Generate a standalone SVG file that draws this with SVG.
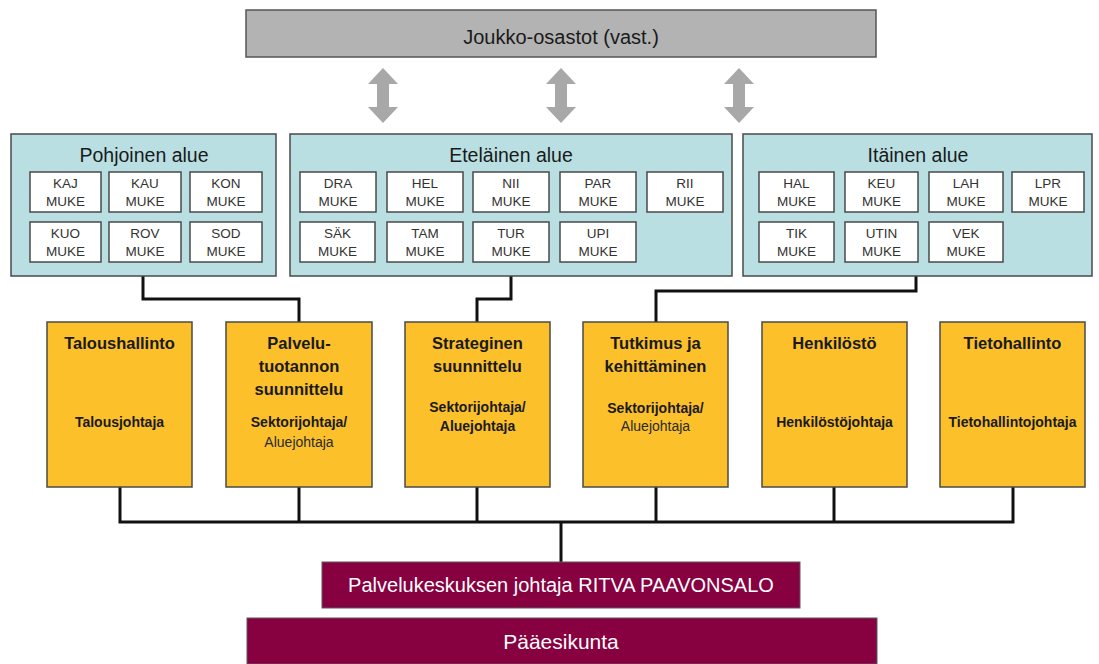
<svg xmlns="http://www.w3.org/2000/svg" width="1099" height="664" viewBox="0 0 1099 664">
<style>
text{font-family:"Liberation Sans",Arial,sans-serif;text-anchor:middle}
.region{fill:#b9dfe2;stroke:#4a4a4a;stroke-width:1.5}
.unit{fill:#ffffff;stroke:#4a4a4a;stroke-width:1.5}
.unit-t{font-size:13.5px;fill:#333}
.rtitle{font-size:19.5px;fill:#1a1a1a}
.dept{fill:#fcc02b;stroke:#4a4a4a;stroke-width:1.5}
.dt{font-size:16.5px;font-weight:bold;fill:#1a1a1a}
.ds{font-size:14px;font-weight:bold;fill:#1a1a1a}
.dn{font-size:14px;fill:#2a2a2a}
.maroon{fill:#870040;stroke:#5a5a5a;stroke-width:1}
.wt{fill:#ffffff}
.conn{fill:none;stroke:#111;stroke-width:3}
.arrow{fill:#a8a8a8}
</style>
<rect width="1099" height="664" fill="#ffffff"/>

<g id="joukko">
<rect x="246" y="10" width="630" height="47" fill="#b3b3b3" stroke="#555" stroke-width="1.5"/>
<text x="561" y="44" font-size="20" fill="#1a1a1a">Joukko-osastot (vast.)</text>
</g>

<g id="arrows">
<path class="arrow" d="M383,68 L398,84 L389,84 L389,107 L398,107 L383,123 L368,107 L377,107 L377,84 L368,84 Z"/>
<path class="arrow" d="M561,68 L576,84 L567,84 L567,107 L576,107 L561,123 L546,107 L555,107 L555,84 L546,84 Z"/>
<path class="arrow" d="M739,68 L754,84 L745,84 L745,107 L754,107 L739,123 L724,107 L733,107 L733,84 L724,84 Z"/>
</g>

<g id="connectors">
<path class="conn" d="M143,276 V299 H299 V322"/>
<path class="conn" d="M511,276 V299 H477 V322"/>
<path class="conn" d="M916,276 V291 H656 V322"/>
<path class="conn" d="M120,487 V522 H1013 V487"/>
<path class="conn" d="M299,487 V522"/>
<path class="conn" d="M477,487 V522"/>
<path class="conn" d="M656,487 V522"/>
<path class="conn" d="M834,487 V522"/>
<path class="conn" d="M561,522 V562"/>
</g>

<g id="pohjoinen">
<rect class="region" x="11" y="134" width="265" height="142"/>
<text class="rtitle" x="144" y="162">Pohjoinen alue</text>
<rect class="unit" x="30" y="172" width="71" height="40"/>
<text class="unit-t" x="65.5" y="188">KAJ</text><text class="unit-t" x="65.5" y="206">MUKE</text>
<rect class="unit" x="109" y="172" width="72" height="40"/>
<text class="unit-t" x="145" y="188">KAU</text><text class="unit-t" x="145" y="206">MUKE</text>
<rect class="unit" x="190" y="172" width="72" height="40"/>
<text class="unit-t" x="226" y="188">KON</text><text class="unit-t" x="226" y="206">MUKE</text>
<rect class="unit" x="30" y="222" width="71" height="40"/>
<text class="unit-t" x="65.5" y="238">KUO</text><text class="unit-t" x="65.5" y="256">MUKE</text>
<rect class="unit" x="109" y="222" width="72" height="40"/>
<text class="unit-t" x="145" y="238">ROV</text><text class="unit-t" x="145" y="256">MUKE</text>
<rect class="unit" x="190" y="222" width="72" height="40"/>
<text class="unit-t" x="226" y="238">SOD</text><text class="unit-t" x="226" y="256">MUKE</text>
</g>

<g id="etelainen">
<rect class="region" x="290" y="134" width="442" height="142"/>
<text class="rtitle" x="511" y="162">Eteläinen alue</text>
<rect class="unit" x="300" y="172" width="76" height="40"/>
<text class="unit-t" x="338" y="188">DRA</text><text class="unit-t" x="338" y="206">MUKE</text>
<rect class="unit" x="387" y="172" width="76" height="40"/>
<text class="unit-t" x="425" y="188">HEL</text><text class="unit-t" x="425" y="206">MUKE</text>
<rect class="unit" x="473" y="172" width="76" height="40"/>
<text class="unit-t" x="511" y="188">NII</text><text class="unit-t" x="511" y="206">MUKE</text>
<rect class="unit" x="560" y="172" width="76" height="40"/>
<text class="unit-t" x="598" y="188">PAR</text><text class="unit-t" x="598" y="206">MUKE</text>
<rect class="unit" x="647" y="172" width="76" height="40"/>
<text class="unit-t" x="685" y="188">RII</text><text class="unit-t" x="685" y="206">MUKE</text>
<rect class="unit" x="300" y="222" width="75" height="40"/>
<text class="unit-t" x="337.5" y="238">SÄK</text><text class="unit-t" x="337.5" y="256">MUKE</text>
<rect class="unit" x="387" y="222" width="76" height="40"/>
<text class="unit-t" x="425" y="238">TAM</text><text class="unit-t" x="425" y="256">MUKE</text>
<rect class="unit" x="473" y="222" width="76" height="40"/>
<text class="unit-t" x="511" y="238">TUR</text><text class="unit-t" x="511" y="256">MUKE</text>
<rect class="unit" x="560" y="222" width="76" height="40"/>
<text class="unit-t" x="598" y="238">UPI</text><text class="unit-t" x="598" y="256">MUKE</text>
</g>

<g id="itainen">
<rect class="region" x="743" y="134" width="349" height="142"/>
<text class="rtitle" x="918" y="162">Itäinen alue</text>
<rect class="unit" x="759" y="172" width="75" height="40"/>
<text class="unit-t" x="796.5" y="188">HAL</text><text class="unit-t" x="796.5" y="206">MUKE</text>
<rect class="unit" x="845" y="172" width="73" height="40"/>
<text class="unit-t" x="881.5" y="188">KEU</text><text class="unit-t" x="881.5" y="206">MUKE</text>
<rect class="unit" x="929" y="172" width="74" height="40"/>
<text class="unit-t" x="966" y="188">LAH</text><text class="unit-t" x="966" y="206">MUKE</text>
<rect class="unit" x="1012" y="172" width="72" height="40"/>
<text class="unit-t" x="1048" y="188">LPR</text><text class="unit-t" x="1048" y="206">MUKE</text>
<rect class="unit" x="759" y="222" width="75" height="40"/>
<text class="unit-t" x="796.5" y="238">TIK</text><text class="unit-t" x="796.5" y="256">MUKE</text>
<rect class="unit" x="845" y="222" width="73" height="40"/>
<text class="unit-t" x="881.5" y="238">UTIN</text><text class="unit-t" x="881.5" y="256">MUKE</text>
<rect class="unit" x="929" y="222" width="74" height="40"/>
<text class="unit-t" x="966" y="238">VEK</text><text class="unit-t" x="966" y="256">MUKE</text>
</g>

<g id="taloushallinto">
<rect class="dept" x="47" y="322" width="145" height="165"/>
<text class="dt" x="119.5" y="349">Taloushallinto</text>
<text class="ds" x="119.5" y="427">Talousjohtaja</text>
</g>

<g id="palvelutuotanto">
<rect class="dept" x="226" y="322" width="146" height="165"/>
<text class="dt" x="299" y="349">Palvelu-</text>
<text class="dt" x="299" y="372">tuotannon</text>
<text class="dt" x="299" y="395">suunnittelu</text>
<text class="ds" x="299" y="427">Sektorijohtaja/</text>
<text class="dn" x="299" y="447">Aluejohtaja</text>
</g>

<g id="strateginen">
<rect class="dept" x="405" y="322" width="145" height="165"/>
<text class="dt" x="477.5" y="349">Strateginen</text>
<text class="dt" x="477.5" y="372">suunnittelu</text>
<text class="ds" x="477.5" y="412">Sektorijohtaja/</text>
<text class="ds" x="477.5" y="431">Aluejohtaja</text>
</g>

<g id="tutkimus">
<rect class="dept" x="583" y="322" width="145" height="165"/>
<text class="dt" x="655.5" y="349">Tutkimus ja</text>
<text class="dt" x="655.5" y="372">kehittäminen</text>
<text class="ds" x="655.5" y="413">Sektorijohtaja/</text>
<text class="dn" x="655.5" y="431">Aluejohtaja</text>
</g>

<g id="henkilosto">
<rect class="dept" x="762" y="322" width="145" height="165"/>
<text class="dt" x="834.5" y="349">Henkilöstö</text>
<text class="ds" x="834.5" y="427">Henkilöstöjohtaja</text>
</g>

<g id="tietohallinto">
<rect class="dept" x="940" y="322" width="145" height="165"/>
<text class="dt" x="1012.5" y="349">Tietohallinto</text>
<text class="ds" x="1012.5" y="427">Tietohallintojohtaja</text>
</g>

<g id="johtaja">
<rect class="maroon" x="322" y="562" width="478" height="46"/>
<text class="wt" x="561" y="592" font-size="20">Palvelukeskuksen johtaja RITVA PAAVONSALO</text>
</g>

<g id="paaesikunta">
<rect class="maroon" x="247" y="618" width="630" height="46"/>
<text class="wt" x="561" y="649" font-size="21">Pääesikunta</text>
</g>
</svg>
